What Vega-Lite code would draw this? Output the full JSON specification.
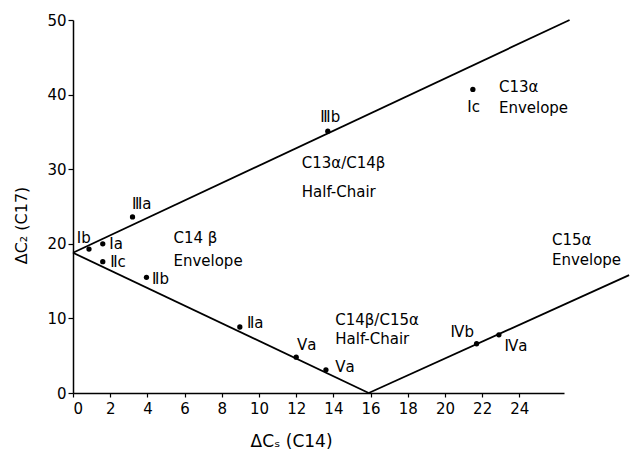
{
  "$schema": "https://vega.github.io/schema/vega-lite/v6.json",
  "width": 491,
  "height": 373,
  "autosize": {"type": "none"},
  "padding": {"left": 73, "top": 20, "right": 68, "bottom": 59},
  "background": "white",
  "config": {
    "view": {"stroke": null},
    "font": "DejaVu Sans",
    "axis": {"grid": false, "domainColor": "black", "tickColor": "black", "labelColor": "black", "titleColor": "black", "labelFont": "DejaVu Sans", "titleFont": "DejaVu Sans", "labelFontSize": 15, "titleFontSize": 16, "titleFontWeight": "normal", "domainWidth": 1.5, "tickWidth": 1.2}
  },
  "datasets": {
    "lines": [
      {"seg": "upper", "x": 0, "y": 18.8},
      {"seg": "upper", "x": 26.7, "y": 50},
      {"seg": "lower", "x": 0, "y": 18.8},
      {"seg": "lower", "x": 15.9, "y": 0},
      {"seg": "right", "x": 15.9, "y": 0},
      {"seg": "right", "x": 29.9, "y": 15.8}
    ],
    "points": [
      {"name": "Ⅰb", "x": 0.86, "y": 19.3, "lx": 0.2, "ly": 20.8},
      {"name": "Ⅰa", "x": 1.6, "y": 20.0, "lx": 1.95, "ly": 20.0},
      {"name": "Ⅱc", "x": 1.6, "y": 17.6, "lx": 2.0, "ly": 17.6},
      {"name": "Ⅱb", "x": 3.95, "y": 15.5, "lx": 4.25, "ly": 15.3},
      {"name": "Ⅱa", "x": 8.97, "y": 8.85, "lx": 9.35, "ly": 9.4},
      {"name": "Ⅴa", "x": 12.0, "y": 4.8, "lx": 12.05, "ly": 6.4},
      {"name": "Ⅴa", "x": 13.6, "y": 3.1, "lx": 14.1, "ly": 3.5},
      {"name": "Ⅳb", "x": 21.7, "y": 6.6, "lx": 20.3, "ly": 8.2},
      {"name": "Ⅳa", "x": 22.9, "y": 7.8, "lx": 23.2, "ly": 6.3},
      {"name": "Ⅲa", "x": 3.2, "y": 23.6, "lx": 3.17, "ly": 25.3},
      {"name": "Ⅲb", "x": 13.7, "y": 35.1, "lx": 13.3, "ly": 37.0},
      {"name": "Ⅰc", "x": 21.5, "y": 40.7, "lx": 21.2, "ly": 38.3}
    ],
    "regions": [
      {"text": "C13α/C14β", "x": 12.3, "y": 30.8},
      {"text": "Half-Chair", "x": 12.3, "y": 26.9},
      {"text": "C13α", "x": 22.9, "y": 41.0},
      {"text": "Envelope", "x": 22.9, "y": 38.2},
      {"text": "C14 β", "x": 5.4, "y": 20.8},
      {"text": "Envelope", "x": 5.4, "y": 17.7},
      {"text": "C14β/C15α", "x": 14.1, "y": 9.8},
      {"text": "Half-Chair", "x": 14.1, "y": 7.2},
      {"text": "C15α", "x": 25.75, "y": 20.5},
      {"text": "Envelope", "x": 25.75, "y": 17.8}
    ]
  },
  "layer": [
    {
      "data": {"name": "lines"},
      "mark": {"type": "line", "color": "black", "strokeWidth": 1.8},
      "encoding": {
        "x": {"field": "x", "type": "quantitative", "scale": {"domain": [0, 26.4], "nice": false, "zero": false},
          "axis": {"values": [0, 2, 4, 6, 8, 10, 12, 14, 16, 18, 20, 22, 24], "title": "ΔCₛ (C14)", "titleFontSize": 17, "tickSize": 4, "labelPadding": 4, "titlePadding": 17, "titleX": 218}},
        "y": {"field": "y", "type": "quantitative", "scale": {"domain": [0, 50], "nice": false},
          "axis": {"values": [0, 10, 20, 30, 40, 50], "title": "ΔC₂ (C17)", "tickSize": 5, "labelPadding": 2, "titlePadding": 17, "titleY": 205}},
        "detail": {"field": "seg"}
      }
    },
    {
      "data": {"name": "points"},
      "mark": {"type": "circle", "color": "black", "opacity": 1, "size": 28},
      "encoding": {
        "x": {"field": "x", "type": "quantitative"},
        "y": {"field": "y", "type": "quantitative"}
      }
    },
    {
      "data": {"name": "points"},
      "mark": {"type": "text", "align": "left", "baseline": "middle", "fontSize": 15, "color": "black"},
      "encoding": {
        "x": {"field": "lx", "type": "quantitative"},
        "y": {"field": "ly", "type": "quantitative"},
        "text": {"field": "name"}
      }
    },
    {
      "data": {"name": "regions"},
      "mark": {"type": "text", "align": "left", "baseline": "middle", "fontSize": 15, "color": "black"},
      "encoding": {
        "x": {"field": "x", "type": "quantitative"},
        "y": {"field": "y", "type": "quantitative"},
        "text": {"field": "text"}
      }
    }
  ]
}
